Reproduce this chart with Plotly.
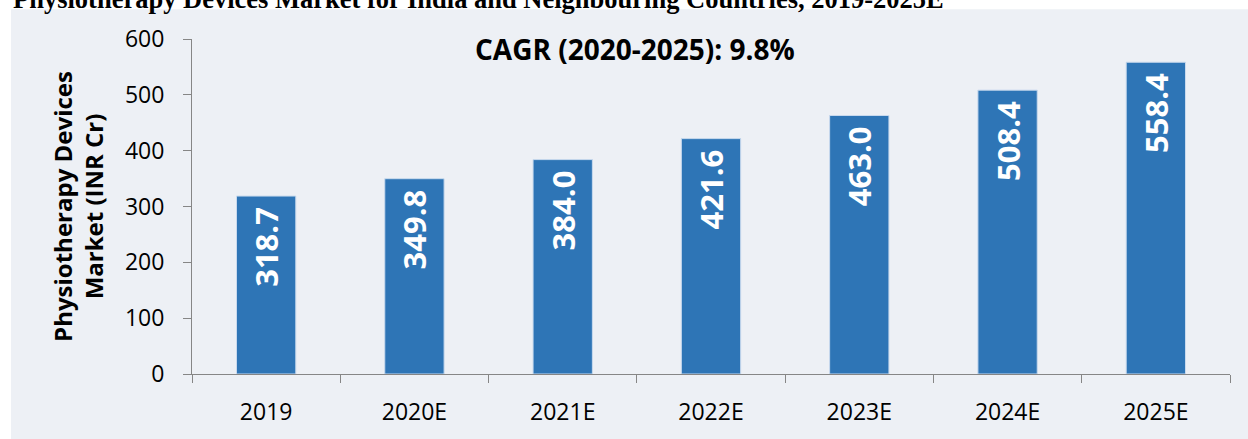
import plotly.graph_objects as go

categories = ["2019", "2020E", "2021E", "2022E", "2023E", "2024E", "2025E"]
values = [318.7, 349.8, 384.0, 421.6, 463.0, 508.4, 558.4]
y_ticks = [0, 100, 200, 300, 400, 500, 600]

title_text = "Physiotherapy Devices Market for India and Neighbouring Countries, 2019-2025E"
cagr_text = "CAGR (2020-2025): 9.8%"
y_title = "Physiotherapy Devices<br>Market (INR Cr)"

BG = "#EDF0F5"
BAR = "#2E75B6"
AXIS = "#868686"

W, H = 1248, 439
L, R, T, B = 192, 18, 39, 63
PW = W - L - R
PH = H - T - B

def px_x(p):
    return (p - L) / PW

def px_y(p):
    return 1 + (T - p) / PH

fig = go.Figure()
fig.add_trace(go.Bar(
    x=categories,
    y=values,
    width=0.4,
    marker=dict(color=BAR, line=dict(color="#C9DAEE", width=1)),
    text=[f"{v:.1f} " for v in values],
    textposition="inside",
    insidetextanchor="end",
    textangle=-90,
    textfont=dict(family="Open Sans", size=31, color="white", weight="bold"),
    cliponaxis=False,
    hoverinfo="skip",
))

fig.update_layout(
    width=W, height=H,
    margin=dict(l=L, r=R, t=T, b=B, pad=0),
    paper_bgcolor=BG,
    plot_bgcolor=BG,
    showlegend=False,
    font=dict(family="Open Sans", color="black"),
    xaxis=dict(
        type="category",
        tickson="boundaries",
        ticks="outside",
        ticklen=8,
        tickcolor=AXIS,
        tickwidth=1,
        showline=True,
        linecolor=AXIS,
        linewidth=1,
        showgrid=False,
        tickfont=dict(family="Open Sans", size=23, color="black"),
        ticklabelstandoff=17,
    ),
    yaxis=dict(
        range=[0, 600],
        tickvals=y_ticks,
        ticks="outside",
        ticklen=8,
        tickcolor=AXIS,
        tickwidth=1,
        showline=True,
        linecolor=AXIS,
        linewidth=1,
        showgrid=False,
        zeroline=False,
        tickfont=dict(family="Open Sans", size=23, color="black"),
        ticklabelstandoff=14,
        title=dict(text=y_title, font=dict(family="Open Sans", size=24, color="black", weight="bold"), standoff=14),
    ),
    shapes=[
        dict(type="rect", xref="paper", yref="paper", layer="below",
             x0=px_x(-20), x1=px_x(11), y0=px_y(460), y1=px_y(-20),
             fillcolor="white", line=dict(width=0)),
        dict(type="rect", xref="paper", yref="paper", layer="below",
             x0=px_x(-20), x1=px_x(1270), y0=px_y(9), y1=px_y(-20),
             fillcolor="white", line=dict(width=0)),
    ],
    annotations=[
        dict(text=cagr_text, xref="paper", yref="paper",
             x=px_x(635), y=px_y(49), xanchor="center", yanchor="middle",
             showarrow=False,
             font=dict(family="Open Sans", size=28, color="black", weight="bold")),
        dict(text=title_text, xref="paper", yref="paper",
             x=px_x(11), y=px_y(-1), xanchor="left", yanchor="middle",
             showarrow=False,
             font=dict(family="Liberation Serif", size=26.5, color="black", weight="bold")),
    ],
)

fig.write_html("out.html", config={"displayModeBar": False},
               post_script="document.body.style.margin='0';")
